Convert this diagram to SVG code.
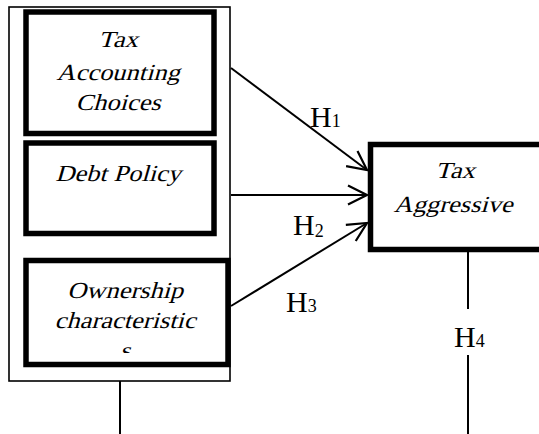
<svg xmlns="http://www.w3.org/2000/svg" width="539" height="434" viewBox="0 0 539 434">
<style>
.thin{fill:none;stroke:#000;stroke-width:1.6}
.box{fill:#fff;stroke:#000;stroke-width:5.5}
.lbl{font-family:"Liberation Serif","Times New Roman",serif;font-size:23px;text-anchor:middle;fill:#000}
.h{font-family:"Liberation Serif","Times New Roman",serif;font-size:30px;fill:#000}
.sub{font-size:18px}
.ln{fill:none;stroke:#000;stroke-width:2}
</style>
<defs>
<marker id="arr" markerUnits="userSpaceOnUse" markerWidth="30" markerHeight="30" viewBox="-25 -15 30 30" refX="0" refY="0" orient="auto">
<path d="M-19,-9.5 L0,0 L-19,9.5" fill="none" stroke="#000" stroke-width="2.2"/>
</marker>
<clipPath id="clipS"><rect x="26" y="260" width="202" height="93"/></clipPath>
</defs>
<rect id="group" class="thin" x="9" y="7" width="221" height="374"/>
<g id="n1">
<rect class="box" x="26" y="12" width="188" height="121.5"/>
<text class="lbl" transform="translate(118,47) scale(1.15,1) skewX(-14)">Tax</text>
<text class="lbl" transform="translate(118,80) scale(1.15,1) skewX(-14)">Accounting</text>
<text class="lbl" transform="translate(118,110) scale(1.15,1) skewX(-14)">Choices</text>
</g>
<g id="n2">
<rect class="box" x="26" y="143" width="188" height="90.5"/>
<text class="lbl" transform="translate(118,181) scale(1.15,1) skewX(-14)">Debt Policy</text>
</g>
<g id="n3">
<rect class="box" x="26" y="260.5" width="202" height="104"/>
<text class="lbl" transform="translate(125,298) scale(1.15,1) skewX(-14)">Ownership</text>
<text class="lbl" transform="translate(125,328) scale(1.15,1) skewX(-14)">characteristic</text>
<g clip-path="url(#clipS)"><text class="lbl" transform="translate(125,358) scale(1.15,1) skewX(-14)">s</text></g>
</g>
<g id="n4">
<rect class="box" x="370.5" y="144.5" width="200" height="105"/>
<text class="lbl" transform="translate(455,178) scale(1.15,1) skewX(-14)">Tax</text>
<text class="lbl" transform="translate(453,212) scale(1.15,1) skewX(-14)">Aggressive</text>
</g>
<g id="connectors">
<line class="ln" x1="231" y1="68" x2="367" y2="170" marker-end="url(#arr)"/>
<line class="ln" x1="231" y1="195" x2="367" y2="195" marker-end="url(#arr)"/>
<line class="ln" x1="231" y1="306" x2="367" y2="223" marker-end="url(#arr)"/>
<line class="ln" x1="120" y1="381" x2="120" y2="434"/>
<line class="ln" x1="468" y1="252" x2="468" y2="309"/>
<line class="ln" x1="468" y1="355" x2="468" y2="434"/>
</g>
<g id="labels">
<text class="h" x="310" y="127">H<tspan class="sub">1</tspan></text>
<text class="h" x="293" y="235">H<tspan class="sub" dy="2">2</tspan></text>
<text class="h" x="286" y="312">H<tspan class="sub">3</tspan></text>
<text class="h" x="454" y="347">H<tspan class="sub">4</tspan></text>
</g>
</svg>
